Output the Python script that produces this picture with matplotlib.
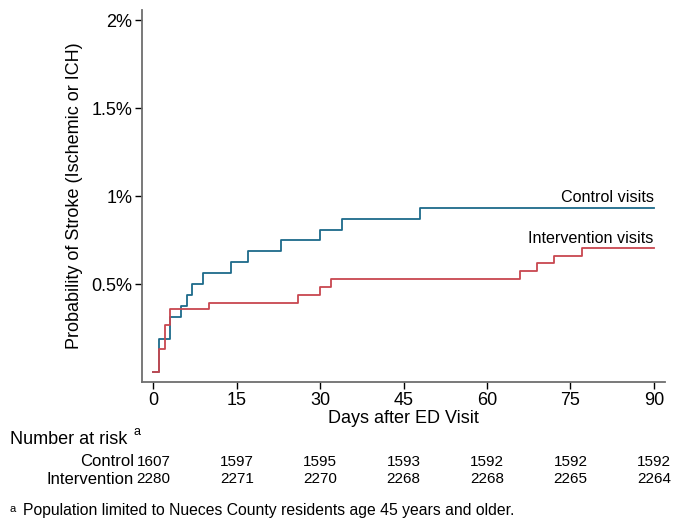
import matplotlib
matplotlib.use('Agg')
import matplotlib.pyplot as plt
import matplotlib.transforms as mtransforms

plt.rcParams['font.family'] = ['Liberation Sans', 'DejaVu Sans']

# Kaplan-Meier style cumulative probability of stroke (%)
control_days = [0, 1, 3, 5, 6, 7, 9, 14, 17, 23, 30, 34, 48, 90]
control_prob = [0, 0.19, 0.31, 0.375, 0.4375, 0.5, 0.56, 0.625, 0.686, 0.748, 0.809, 0.871, 0.934, 0.934]

interv_days = [0, 1, 2, 3, 10, 26, 30, 32, 66, 69, 72, 77, 90]
interv_prob = [0, 0.132, 0.265, 0.356, 0.394, 0.439, 0.485, 0.528, 0.575, 0.617, 0.659, 0.703, 0.703]

x_ticks = [0, 15, 30, 45, 60, 75, 90]
y_ticks = [0.5, 1, 1.5, 2]
y_ticklabels = ['0.5%', '1%', '1.5%', '2%']

risk_control = [1607, 1597, 1595, 1593, 1592, 1592, 1592]
risk_interv = [2280, 2271, 2270, 2268, 2268, 2265, 2264]

blue = '#1d6a8a'
red = '#c8474f'
axis_gray = '#6e6e6e'

fig = plt.figure(figsize=(6.83, 5.21), dpi=100)
ax = fig.add_axes([0.2084, 0.2662, 0.9736 - 0.2084, 0.9808 - 0.2662])

ax.step(control_days, control_prob, where='post', color=blue, lw=1.3)
ax.step(interv_days, interv_prob, where='post', color=red, lw=1.3)

ax.text(90, 0.968, 'Control visits', ha='right', va='baseline', fontsize=11.6)
ax.text(90, 0.731, 'Intervention visits', ha='right', va='baseline', fontsize=11.6)

ax.set_xlim(-2, 92)
ax.set_ylim(-0.0585, 2.057)
ax.set_xticks(x_ticks)
ax.set_yticks(y_ticks)
ax.set_yticklabels(y_ticklabels)
ax.tick_params(labelsize=13, length=5, width=1, color='black', pad=2)

for s in ['top', 'right']:
    ax.spines[s].set_visible(False)
for s in ['left', 'bottom']:
    ax.spines[s].set_color(axis_gray)
    ax.spines[s].set_linewidth(1.3)

ax.set_xlabel('Days after ED Visit', fontsize=13, labelpad=1)
ax.set_ylabel('Probability of Stroke (Ischemic or ICH)', fontsize=13, labelpad=6)

# number at risk table
trans = mtransforms.blended_transform_factory(ax.transData, fig.transFigure)
fig.text(10 / 683, 1 - 440 / 521, 'Number at risk', fontsize=13, va='center', ha='left')
fig.text(133 / 683, 1 - 432 / 521, 'a', fontsize=9, va='center', ha='left')
fig.text(134 / 683, 1 - 462 / 521, 'Control', fontsize=12, va='center', ha='right')
fig.text(134 / 683, 1 - 479 / 521, 'Intervention', fontsize=12, va='center', ha='right')
for d, c, i in zip(x_ticks, risk_control, risk_interv):
    ax.text(d, 1 - 462 / 521, str(c), transform=trans, fontsize=11, ha='center', va='center')
    ax.text(d, 1 - 479 / 521, str(i), transform=trans, fontsize=11, ha='center', va='center')

fig.text(9 / 683, 1 - 509 / 521, 'a', fontsize=8, va='center', ha='left')
fig.text(23 / 683, 1 - 511 / 521, 'Population limited to Nueces County residents age 45 years and older.',
         fontsize=11.3, va='center', ha='left')

fig.savefig('out.png', dpi=100)
